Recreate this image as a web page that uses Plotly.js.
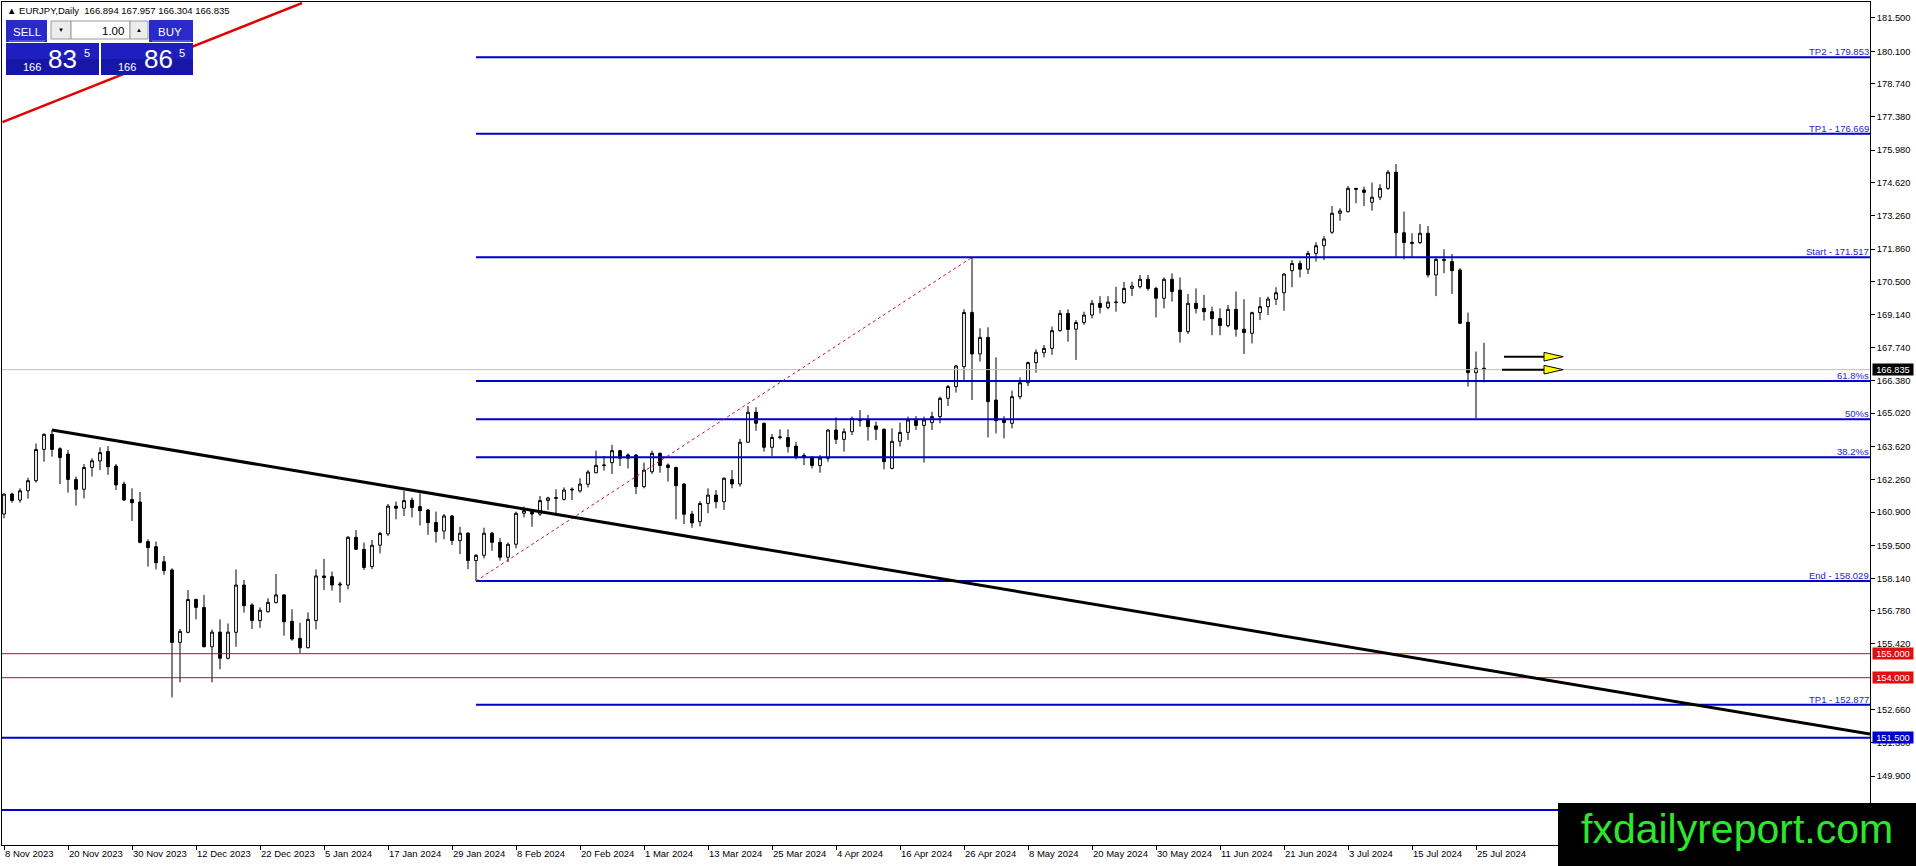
<!DOCTYPE html>
<html><head><meta charset="utf-8">
<script src="https://cdn.plot.ly/plotly-3.0.1.min.js"></script>
<style>html,body{margin:0;padding:0;background:#fff;overflow:hidden}#chart{width:1916px;height:866px}</style>
</head><body><div id="chart"></div>
<script>
// ---------------- DATA ----------------
const openP = [160.82,161.65,161.40,161.79,162.21,163.51,164.14,163.54,163.32,162.26,161.85,162.76,163.03,163.43,162.82,162.07,161.43,161.32,159.67,159.46,
158.83,158.49,155.47,155.89,157.26,156.93,155.29,155.90,154.81,155.89,157.86,157.03,156.38,156.75,157.13,157.45,156.35,155.64,155.25,156.38,
158.24,158.21,157.86,157.86,159.85,159.35,158.63,159.52,159.99,161.15,161.06,161.40,161.13,160.99,160.47,160.11,160.74,159.71,160.02,158.88,
159.10,160.02,159.64,159.02,159.56,160.85,160.96,160.82,161.38,161.47,161.43,161.82,161.78,162.06,162.54,162.84,162.96,163.46,163.28,163.28,
161.96,162.58,163.35,162.86,162.76,162.07,160.82,160.50,161.26,161.61,161.33,162.26,162.07,163.81,165.06,164.60,163.60,164.01,164.01,163.65,
163.26,163.18,162.84,163.14,164.32,163.93,164.25,164.71,164.74,164.49,164.35,162.72,163.85,164.22,164.74,164.51,164.63,164.88,165.64,166.13,
166.96,169.22,167.49,168.18,165.57,164.76,164.60,165.71,166.29,167.13,167.54,167.72,168.46,169.18,168.52,168.80,169.11,169.60,169.43,169.63,
169.63,170.22,170.29,170.60,170.22,169.81,170.60,170.15,168.42,169.60,169.39,169.25,168.97,168.67,169.35,168.52,168.35,169.21,169.46,169.77,
170.04,170.96,171.26,171.02,171.68,172.00,172.56,173.35,173.42,174.39,174.32,173.81,174.02,174.39,175.06,172.54,172.14,172.13,172.52,170.78,
171.43,171.34,170.99,168.81,166.71,166.894];
const highP = [161.68,161.71,161.89,162.33,163.76,164.18,164.32,163.60,163.49,162.38,162.90,163.14,163.60,163.65,162.90,162.17,161.89,161.74,159.76,159.67,
159.07,158.56,156.03,157.65,157.29,157.45,156.01,156.43,156.26,158.51,158.07,157.10,156.93,157.31,158.32,157.47,156.85,156.29,156.72,158.51,
158.95,158.42,158.00,159.90,160.15,159.63,159.74,160.08,161.24,161.34,161.79,161.51,161.68,161.02,160.92,160.82,160.78,160.29,160.06,159.15,
160.25,160.08,159.81,159.63,160.92,161.13,161.02,161.57,161.54,161.85,161.93,161.93,162.31,162.65,163.46,163.24,163.70,163.49,163.35,163.31,
162.96,163.46,163.38,162.93,162.79,162.10,160.95,161.35,161.89,161.82,162.35,162.65,163.95,165.32,165.27,164.63,164.15,164.35,164.35,163.83,
163.35,163.24,163.28,164.35,164.85,164.39,164.88,165.15,164.95,164.67,164.39,164.39,164.63,164.88,164.90,164.88,165.08,165.71,166.20,167.03,
169.35,171.517,168.56,168.60,167.35,164.90,165.96,166.51,167.17,167.68,167.86,168.63,169.32,169.35,168.90,169.25,169.74,169.90,169.90,170.29,
170.49,170.50,170.78,170.78,170.29,170.68,170.85,170.68,169.99,170.22,169.95,169.46,169.39,169.53,170.09,169.77,169.25,169.85,169.88,170.27,
170.85,171.40,171.38,171.79,172.15,172.40,173.65,173.56,174.49,174.40,174.46,174.63,174.56,175.15,175.40,173.42,172.52,172.90,172.82,171.52,
171.85,171.65,171.06,169.21,167.59,167.957];
const lowP = [160.64,161.29,161.29,161.46,162.13,163.00,163.21,162.07,161.71,161.17,161.47,162.38,162.65,162.45,161.82,161.38,160.53,159.60,158.63,158.51,
158.29,153.18,153.81,155.85,156.43,155.27,153.81,154.35,154.76,155.29,156.71,156.03,156.08,156.71,157.10,155.75,155.54,155.01,155.22,156.01,
157.65,157.63,157.13,157.68,159.32,158.49,158.52,159.18,159.90,160.60,160.74,160.68,160.34,159.95,159.63,159.77,159.53,159.15,158.52,158.029,
158.97,159.29,158.88,158.82,159.39,160.68,160.29,160.74,160.99,160.82,161.38,161.40,161.71,161.93,162.52,162.63,162.49,162.82,162.72,161.65,
161.89,162.49,162.54,162.17,160.60,160.40,160.25,160.30,160.85,161.06,160.99,161.89,161.96,163.79,164.29,163.42,163.24,163.93,163.38,163.10,
162.86,162.72,162.54,163.00,163.74,163.42,164.11,164.46,163.88,163.90,162.68,162.68,163.63,163.90,164.32,162.96,164.32,164.60,165.32,165.88,
166.40,165.57,167.17,164.01,164.18,163.97,164.39,165.60,166.15,166.71,167.35,167.45,168.42,168.00,167.24,168.70,168.97,169.18,169.35,169.25,
169.57,169.90,170.22,170.13,169.01,169.39,169.67,167.96,168.32,169.18,168.88,168.27,168.27,168.60,168.21,167.49,167.93,168.90,169.11,169.53,
169.29,170.27,170.68,170.82,171.34,171.40,172.49,173.04,173.38,173.77,173.65,173.46,173.90,174.32,171.54,171.43,171.54,172.07,170.68,169.90,
170.85,169.99,168.74,166.13,164.81,166.304];
const closeP = [161.65,161.38,161.79,162.21,163.51,164.14,163.51,163.17,162.26,161.85,162.76,163.04,163.38,162.79,162.03,161.40,161.29,159.64,159.42,158.79,
158.46,155.47,155.93,157.26,156.93,155.29,155.90,154.81,155.90,157.86,157.00,156.38,156.81,157.14,157.45,156.33,155.61,155.25,156.43,158.24,
158.17,157.86,157.90,159.85,159.35,158.59,159.52,160.01,161.15,161.06,161.38,161.09,160.96,160.46,160.09,160.74,159.71,160.02,158.88,159.10,
160.02,159.64,159.02,159.56,160.85,160.96,160.82,161.38,161.49,161.50,161.82,161.85,162.07,162.57,162.85,162.86,163.46,163.14,163.14,161.96,
162.65,163.35,162.84,162.76,162.00,160.81,160.45,161.26,161.61,161.33,162.31,162.07,163.81,165.06,164.60,163.60,164.01,164.03,163.63,163.21,
163.21,162.84,163.15,164.32,163.93,164.25,164.80,164.76,164.46,164.35,163.00,163.85,164.22,164.74,164.51,164.74,164.88,165.64,166.13,166.99,
169.22,167.49,168.18,165.50,164.71,164.63,165.71,166.29,167.13,167.56,167.72,168.46,169.18,168.51,168.80,169.11,169.60,169.43,169.65,169.65,
170.22,170.32,170.60,170.22,169.81,170.60,170.09,168.42,169.60,169.38,169.25,168.96,168.67,169.35,168.52,168.38,169.21,169.46,169.78,170.04,
170.82,171.26,171.02,171.68,172.00,172.28,173.35,173.45,174.39,174.35,174.22,174.02,174.39,175.06,172.54,172.13,172.10,172.52,170.78,171.43,
171.39,170.96,168.77,166.71,166.89,166.835];

const dateLabels = ["8 Nov 2023","20 Nov 2023","30 Nov 2023","12 Dec 2023","22 Dec 2023","5 Jan 2024","17 Jan 2024","29 Jan 2024",
"8 Feb 2024","20 Feb 2024","1 Mar 2024","13 Mar 2024","25 Mar 2024","4 Apr 2024","16 Apr 2024","26 Apr 2024","8 May 2024",
"20 May 2024","30 May 2024","11 Jun 2024","21 Jun 2024","3 Jul 2024","15 Jul 2024","25 Jul 2024"];
const barsPerLabel = 8;

const priceTicks = [181.5,180.1,178.74,177.38,175.98,174.62,173.26,171.86,170.5,169.14,167.74,166.38,165.02,163.62,162.26,160.9,
159.5,158.14,156.78,155.42,152.66,151.3,149.9];

const fibLevels = [179.853,176.669,171.517,166.365,164.773,163.181,158.029,152.877];
const fibLabels = ["TP2 - 179.853","TP1 - 176.669","Start - 171.517","61.8%s","50%s","38.2%s","End - 158.029","TP1 - 152.877"];
const fibStartBar = 59;
const swingLine = {x:[59,121], y:[158.029,171.517]};
const redLevels = [155.0,154.0];
const blueFullLevels = [151.5,148.49];
const bidPrice = 166.835;
const trendLine = {x:[6,233.25], y:[164.32,151.65]};
const redRayX = [-0.2,37.25];
const redRayY = [177.15,182.11];
const arrowLevels = [167.375,166.835];
const arrowStartBar = [187.5,187.25];
const arrowBaseBar = 192.5, arrowTipBar = 194.9, arrowHalf = 0.18;
const axisTags = [
  {p:166.835, t:"166.835", bg:"#000000"},
  {p:155.0, t:"155.000", bg:"#e01010"},
  {p:154.0, t:"154.000", bg:"#e01010"},
  {p:151.5, t:"151.500", bg:"#0000cc"}
];
const header = "▲ EURJPY,Daily  166.894 167.957 166.304 166.835";

// ---------------- BUILD ----------------
const W = 1916, H = 866;
const M = {l:2, r:46, t:2, b:21};
const PW = W - M.l - M.r, PH = H - M.t - M.b;
const px = v => (v - M.l) / PW;          // pixel x -> paper
const py = v => (H - M.b - v) / PH;      // pixel y -> paper
const idx = openP.map((_, i) => i);
const font = 'Liberation Sans, Arial, sans-serif';

const rayTrace = {type:'scatter', mode:'lines', x:redRayX, y:redRayY, line:{color:'#e00000', width:2.5},
  hoverinfo:'skip', showlegend:false};
const trace = {
  type: 'candlestick', x: idx, open: openP, high: highP, low: lowP, close: closeP,
  increasing: {line: {color: '#000', width: 1}, fillcolor: '#ffffff'},
  decreasing: {line: {color: '#000', width: 1}, fillcolor: '#000000'},
  whiskerwidth: 0, hoverinfo: 'skip', showlegend: false
};

const shapes = [];
const ann = [];

// full width lines
redLevels.forEach(l => shapes.push({type:'line', xref:'paper', yref:'y', x0:0, x1:1, y0:l, y1:l, line:{color:'#e00000', width:1}}));
shapes.push({type:'line', xref:'paper', yref:'y', x0:0, x1:1, y0:bidPrice, y1:bidPrice, line:{color:'#c0c0c0', width:1}});
blueFullLevels.forEach(l => shapes.push({type:'line', xref:'paper', yref:'y', x0:0, x1:1, y0:l, y1:l, line:{color:'#0000cc', width:2}}));
// fib lines
fibLevels.forEach((l, k) => {
  shapes.push({type:'line', xref:'x', yref:'y', x0:fibStartBar, x1:233.25, y0:l, y1:l, line:{color:'#0000cc', width:2}});
  ann.push({xref:'paper', yref:'y', x:1, y:l, xanchor:'right', yanchor:'bottom', yshift:-1, text:fibLabels[k],
    showarrow:false, borderpad:0, font:{family:font, size:9.5, color:'#2424d4'}});
});
shapes.push({type:'line', xref:'x', yref:'y', x0:swingLine.x[0], x1:swingLine.x[1], y0:swingLine.y[0], y1:swingLine.y[1],
  line:{color:'#c8103a', width:1, dash:'3px,3px'}});
shapes.push({type:'line', xref:'x', yref:'y', x0:trendLine.x[0], x1:trendLine.x[1], y0:trendLine.y[0], y1:trendLine.y[1],
  line:{color:'#000000', width:3}});
// arrows
arrowLevels.forEach((l, k) => {
  shapes.push({type:'line', xref:'x', yref:'y', x0:arrowStartBar[k], x1:arrowBaseBar, y0:l, y1:l, line:{color:'#000', width:2}});
  shapes.push({type:'path', xref:'x', yref:'y',
    path:`M ${arrowBaseBar},${l + arrowHalf} L ${arrowTipBar},${l} L ${arrowBaseBar},${l - arrowHalf} Z`,
    fillcolor:'#ffff00', line:{color:'#000', width:1}});
});
// axis tags
axisTags.forEach(a => ann.push({xref:'paper', yref:'y', x:px(1872), y:a.p, xanchor:'left', yanchor:'middle',
  text:a.t, showarrow:false, bgcolor:a.bg, width:40, height:11, borderpad:0, align:'center',
  font:{family:font, size:9.3, color:'#ffffff'}}));

// trade panel
const rect = (x0, y0, x1, y1, fill, line) => shapes.push({type:'rect', xref:'paper', yref:'paper',
  x0:px(x0), x1:px(x1), y0:py(y1), y1:py(y0), fillcolor:fill, line:line || {width:0}});
rect(6, 20, 47, 42, '#2a2acb');
rect(149, 20, 193, 42, '#2a2acb');
rect(6, 43, 99, 59, '#1f1fc0'); rect(6, 59, 99, 75, '#1616a8');
rect(101, 43, 193, 59, '#1f1fc0'); rect(101, 59, 193, 75, '#1616a8');
rect(51, 21, 71, 39, '#ececec', {color:'#9a9a9a', width:1});
rect(71, 21, 130, 39, '#ffffff', {color:'#9a9a9a', width:1});
rect(130, 21, 148, 39, '#ececec', {color:'#9a9a9a', width:1});
shapes.push({type:'line', xref:'paper', yref:'paper', x0:px(9), x1:px(45), y0:py(41), y1:py(41), line:{color:'#7c7ce8', width:1}});
shapes.push({type:'line', xref:'paper', yref:'paper', x0:px(152), x1:px(191), y0:py(41), y1:py(41), line:{color:'#7c7ce8', width:1}});
const txt = (x, y, t, size, color, anchor) => ann.push({xref:'paper', yref:'paper', x:px(x), y:py(y), text:t,
  xanchor:anchor || 'center', yanchor:'middle', showarrow:false, borderpad:0, font:{family:font, size:size, color:color}});
txt(6, 11, header, 9.5, '#000', 'left');
txt(27, 32, 'SELL', 11.5, '#fff');
txt(170, 32, 'BUY', 11.5, '#fff');
txt(61, 30, '▼', 6, '#000');
txt(139, 30, '▲', 6, '#000');
txt(125, 31, '1.00', 11.5, '#000', 'right');
txt(32, 66.5, '166', 11, '#fff'); txt(62, 59.5, '83', 26, '#fff'); txt(86.5, 53, '5', 11, '#fff');
txt(126.5, 66.5, '166', 11, '#fff'); txt(158, 59.5, '86', 26, '#fff'); txt(181.5, 53, '5', 11, '#fff');

// watermark
rect(1558, 803, 1916, 866, '#000000');
txt(1736.5, 829, 'fxdailyreport.com', 41, '#2fe62f');

const layout = {
  width: W, height: H, margin: M, paper_bgcolor: '#fff', plot_bgcolor: '#fff',
  showlegend: false, boxgap: 0.5,
  xaxis: {range: [-0.25, 233.25], tickvals: dateLabels.map((_, k) => k * barsPerLabel), ticktext: dateLabels,
    ticks: 'outside', ticklen: 4, tickcolor: '#000', ticklabelposition: 'outside right',
    tickfont: {family: font, size: 9.5, color: '#000'}, showgrid: false, zeroline: false,
    showline: true, mirror: true, linecolor: '#000', linewidth: 1, rangeslider: {visible: false}, fixedrange: true},
  yaxis: {side: 'right', range: [147.029, 182.154], tickvals: priceTicks, ticktext: priceTicks.map(v => v.toFixed(3)),
    ticks: 'outside', ticklen: 4, tickcolor: '#000', tickfont: {family: font, size: 9.3, color: '#000'},
    showgrid: false, zeroline: false, showline: true, mirror: true, linecolor: '#000', linewidth: 1, fixedrange: true},
  shapes: shapes, annotations: ann
};
Plotly.newPlot('chart', [rayTrace, trace], layout, {displayModeBar: false, staticPlot: true});
</script></body></html>
